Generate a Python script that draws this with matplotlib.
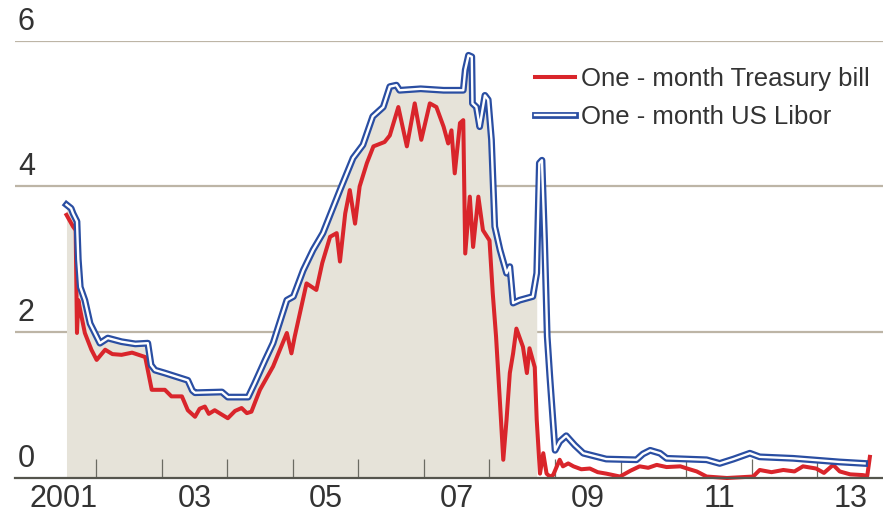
import matplotlib
matplotlib.use("Agg")
import matplotlib.pyplot as plt
import matplotlib.patheffects as pe
import numpy as np

# one-month US Libor, % (decimal years)
libor_x = [2001.55, 2001.62, 2001.65, 2001.71, 2001.73, 2001.76, 2001.83, 2001.91, 2001.96,
           2002.06, 2002.18, 2002.39, 2002.60, 2002.79, 2002.84, 2002.90, 2003.05, 2003.40,
           2003.47, 2003.51, 2003.92, 2004.01, 2004.32, 2004.42, 2004.58, 2004.70, 2004.91,
           2005.01, 2005.16, 2005.31, 2005.46, 2005.72, 2005.92, 2006.07, 2006.22, 2006.38,
           2006.48, 2006.58, 2006.63, 2006.95, 2007.30, 2007.60, 2007.63, 2007.68, 2007.73,
           2007.74, 2007.80, 2007.85, 2007.93, 2007.98, 2008.03, 2008.08, 2008.16, 2008.26,
           2008.31, 2008.36, 2008.46, 2008.66, 2008.72, 2008.76, 2008.80, 2008.84, 2008.88,
           2008.92, 2009.00, 2009.07, 2009.17, 2009.30, 2009.43, 2009.78, 2010.24, 2010.34,
           2010.45, 2010.60, 2010.70, 2011.31, 2011.51, 2011.72, 2011.97, 2012.12, 2012.63,
           2013.34, 2013.72]
libor_y = [3.75, 3.70, 3.63, 3.52, 3.00, 2.62, 2.44, 2.12, 2.03,
           1.85, 1.92, 1.87, 1.84, 1.85, 1.55, 1.48, 1.44, 1.34,
           1.20, 1.17, 1.18, 1.11, 1.11, 1.30, 1.62, 1.85, 2.44,
           2.49, 2.85, 3.13, 3.36, 3.95, 4.39, 4.57, 4.96, 5.09,
           5.37, 5.39, 5.32, 5.34, 5.32, 5.32, 5.60, 5.80, 5.78,
           5.14, 5.09, 4.82, 5.25, 5.19, 4.64, 3.45, 3.13, 2.81,
           2.90, 2.40, 2.44, 2.49, 2.81, 4.32, 4.36, 3.26, 1.94,
           1.39, 0.38, 0.50, 0.58, 0.45, 0.34, 0.26, 0.25, 0.33,
           0.38, 0.34, 0.27, 0.25, 0.20, 0.26, 0.34, 0.29, 0.27,
           0.22, 0.20]

# one-month Treasury bill, %
tbill_x = [2001.55, 2001.65, 2001.69, 2001.71, 2001.73, 2001.76, 2001.83, 2001.93, 2002.01,
           2002.14, 2002.25, 2002.39, 2002.55, 2002.75, 2002.85, 2003.05, 2003.15, 2003.31,
           2003.40, 2003.51, 2003.58, 2003.66, 2003.72, 2003.81, 2003.90, 2004.01, 2004.12,
           2004.22, 2004.30, 2004.37, 2004.43, 2004.50, 2004.70, 2004.80, 2004.91, 2004.98,
           2005.03, 2005.21, 2005.36, 2005.45, 2005.57, 2005.67, 2005.72, 2005.80, 2005.87,
           2005.95, 2006.02, 2006.13, 2006.23, 2006.40, 2006.48, 2006.61, 2006.74, 2006.86,
           2006.96, 2007.09, 2007.19, 2007.30, 2007.37, 2007.42, 2007.47, 2007.55, 2007.60,
           2007.63, 2007.70, 2007.75, 2007.83, 2007.90, 2008.00, 2008.05, 2008.10, 2008.16,
           2008.21, 2008.26, 2008.31, 2008.36, 2008.41, 2008.51, 2008.57, 2008.61, 2008.69,
           2008.72, 2008.77, 2008.82, 2008.87, 2008.92, 2008.97, 2009.07, 2009.12, 2009.20,
           2009.28, 2009.40, 2009.53, 2009.65, 2009.78, 2009.99, 2010.15, 2010.29, 2010.42,
           2010.55, 2010.70, 2010.91, 2011.05, 2011.16, 2011.31, 2011.62, 2012.02, 2012.12,
           2012.30, 2012.48, 2012.65, 2012.78, 2012.98, 2013.10, 2013.24, 2013.34, 2013.50,
           2013.69, 2013.76, 2013.80]
tbill_y = [3.61, 3.45, 3.40, 1.99, 2.44, 2.30, 1.99, 1.76, 1.62,
           1.76, 1.70, 1.69, 1.72, 1.66, 1.21, 1.21, 1.12, 1.12,
           0.93, 0.84, 0.95, 0.98, 0.88, 0.93, 0.88, 0.82, 0.92,
           0.96, 0.89, 0.91, 1.05, 1.21, 1.53, 1.75, 1.99, 1.71,
           1.94, 2.67, 2.58, 2.95, 3.31, 3.36, 2.97, 3.63, 3.95,
           3.49, 4.00, 4.32, 4.55, 4.61, 4.70, 5.09, 4.55, 5.14,
           4.64, 5.14, 5.09, 4.82, 4.59, 4.77, 4.18, 4.87, 4.91,
           3.08, 3.86, 3.17, 3.86, 3.40, 3.26, 2.53, 1.94, 1.03,
           0.25, 0.80, 1.44, 1.71, 2.05, 1.80, 1.44, 1.78, 1.52,
           0.80, 0.06, 0.34, 0.06, 0.02, 0.04, 0.25, 0.16, 0.20,
           0.16, 0.12, 0.13, 0.08, 0.06, 0.02, 0.10, 0.16, 0.14,
           0.18, 0.15, 0.16, 0.12, 0.09, 0.02, 0.00, 0.02, 0.11,
           0.08, 0.11, 0.09, 0.16, 0.13, 0.07, 0.18, 0.09, 0.05,
           0.04, 0.03, 0.29]

shade_end = 2008.72
year_ticks = list(range(2002, 2014))
year_labels = ["2001", "03", "05", "07", "09", "11", "13"]
label_pos = [2001.5, 2003.5, 2005.5, 2007.5, 2009.5, 2011.5, 2013.5]
y_ticks = [0, 2, 4, 6]

red = "#d9252b"
blue = "#2a4ea2"
txt = "#333333"
font = ["Liberation Sans", "DejaVu Sans"]

fig = plt.figure(figsize=(8.83, 5.13), dpi=100)
ax = fig.add_axes([15 / 883, 35 / 513, 868 / 883, (478 - 40.7) / 513])
ax.set_xlim(2000.765, 2014.0)
ax.set_ylim(0, 6)

lx = np.array(libor_x)
ly = np.array(libor_y)
ax.fill_between(lx, 0, ly, where=lx <= shade_end, color="#e6e3d9", lw=0, zorder=1)

for v in y_ticks[1:]:
    ax.axhline(v, color="#bdb5a6", lw=1.6, zorder=0.5)
for v in y_ticks:
    ax.annotate(str(v), xy=(0, v), xycoords=("axes fraction", "data"),
                xytext=(2, 3), textcoords="offset points", ha="left", va="bottom",
                fontsize=22, color=txt, family=font)

ax.plot(tbill_x, tbill_y, color=red, lw=2.9, zorder=3, clip_on=False,
        solid_joinstyle="round", label="One - month Treasury bill")
ax.plot(libor_x, libor_y, color="white", lw=1.7, zorder=4,
        path_effects=[pe.Stroke(linewidth=4.9, foreground=blue), pe.Normal()],
        label="One - month US Libor")

for s in ["top", "right", "left"]:
    ax.spines[s].set_visible(False)
ax.spines["bottom"].set_color("#55554d")
ax.spines["bottom"].set_linewidth(1.6)
ax.spines["bottom"].set_zorder(5)

ax.set_yticks([])
ax.set_xticks(year_ticks)
ax.set_xticklabels([])
ax.tick_params(axis="x", which="major", direction="in", length=13.5, width=0.9,
               color="#6b6b62")
ax.set_xticks(label_pos, minor=True)
ax.set_xticklabels(year_labels, minor=True, fontsize=22, color=txt, family=font)
ax.tick_params(axis="x", which="minor", length=0, pad=4)

leg = ax.legend(loc="upper left", bbox_to_anchor=(535 / 883, 1 - 67 / 513),
                bbox_transform=fig.transFigure, frameon=False, borderpad=0,
                borderaxespad=0, handlelength=1.55, handletextpad=0.25,
                labelspacing=0.55, prop={"family": font, "size": 18.5})
for t in leg.get_texts():
    t.set_color(txt)

fig.savefig("out.png", dpi=100)
